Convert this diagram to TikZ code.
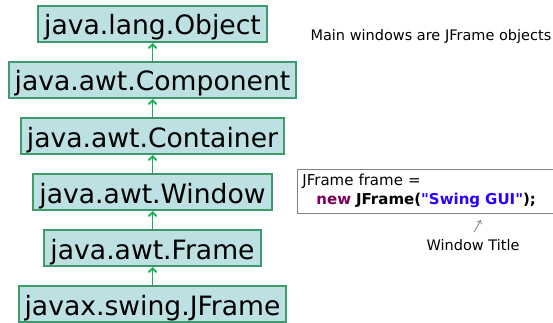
\documentclass[tikz,border=0pt]{standalone}
\usepackage{fontspec}
\setmainfont{DejaVu Sans}[Ligatures=TeXOff]
\usetikzlibrary{positioning,arrows.meta}

\definecolor{boxfill}{HTML}{BDE0E2}
\definecolor{boxline}{HTML}{3C9C6A}
\definecolor{arrowgreen}{HTML}{1CAE5C}
\definecolor{keyword}{HTML}{7F0055}
\definecolor{strblue}{HTML}{2A00FF}

\tikzset{
  classbox/.style={draw=boxline,line width=2pt,fill=boxfill,
    font=\fontsize{26.6}{30}\selectfont,inner xsep=6pt,inner ysep=1pt,
    text height=28pt,text depth=6pt},
  inherit/.style={arrowgreen,line width=1.8pt,-{Straight Barb[length=4pt,width=8pt]}},
  remark/.style={font=\fontsize{14.5}{17}\selectfont},
}

\begin{document}
\begin{tikzpicture}[x=1pt,y=-1pt]
 \useasboundingbox (0,0) rectangle (553,323);

 % class hierarchy
 \node [classbox] (obj) at (152.5,24) {java.lang.Object};
 \node [classbox,below=18pt of obj] (comp) {java.awt.Component};
 \node [classbox,below=18pt of comp] (cont) {java.awt.Container};
 \node [classbox,below=18pt of cont] (win) {java.awt.Window};
 \node [classbox,below=18pt of win] (frame) {java.awt.Frame};
 \node [classbox,below=18pt of frame] (jframe) {javax.swing.JFrame};

 \draw [inherit] (comp) -- (obj);
 \draw [inherit] (cont) -- (comp);
 \draw [inherit] (win) -- (cont);
 \draw [inherit] (frame) -- (win);
 \draw [inherit] (jframe) -- (frame);

 % notes on the right
 \node [remark,anchor=west] (note) at (307,37) {Main windows are JFrame objects};

 \node [draw=gray,line width=0.8pt,anchor=north west,text width=246pt,minimum height=44pt,
        align=left,inner xsep=5pt,font=\fontsize{15}{19}\selectfont] (code) at (297,169)
   {JFrame frame =\\
    \hspace*{14pt}\textbf{\textcolor{keyword}{new} JFrame(\textcolor{strblue}{"Swing GUI"});}};

 \node [remark] (title) at (473,245) {Window Title};
 \coordinate (tail) at (474,232);
 \coordinate (tip) at (481,220);
 \draw [gray,line width=0.8pt,-{Straight Barb[length=3pt,width=5pt]}] (tail) -- (tip);

\end{tikzpicture}
\end{document}
